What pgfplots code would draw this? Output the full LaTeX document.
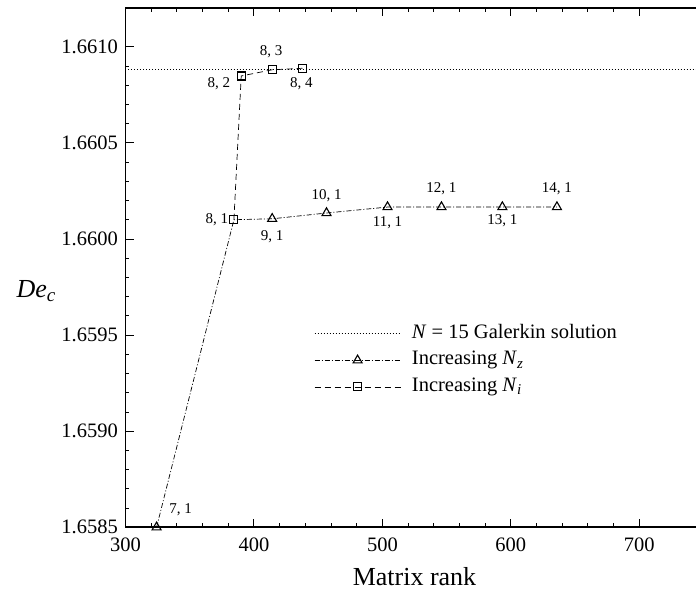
\documentclass[border=0pt]{standalone}
\usepackage{fontspec}
\setmainfont{Liberation Serif}
\usepackage{pgfplots}
\pgfplotsset{compat=1.18}
\newcommand{\sub}[1]{\raisebox{-0.35ex}{\fontsize{15}{17}\selectfont\textit{#1}}}
\newcommand{\subbig}[1]{\raisebox{-0.35ex}{\fontsize{19}{21}\selectfont\textit{#1}}}

\begin{document}
\begin{tikzpicture}
\begin{axis}[
  scale only axis,
  width=578pt, height=519pt,
  xmin=300, xmax=750, ymin=1.6585, ymax=1.6612,
  xtick={300,400,500,600,700},
  ytick={1.6585,1.6590,1.6595,1.6600,1.6605,1.6610},
  minor x tick num=4, minor y tick num=4,
  tick align=inside,
  major tick length=8pt, minor tick length=4pt,
  every tick/.style={black, line width=0.9pt},
  axis line style={line width=1.6pt},
  scaled y ticks=false,
  /pgf/number format/assume math mode=true,
  tick label style={font=\fontsize{20.5}{24}\selectfont, inner sep=0pt},
  yticklabel style={/pgf/number format/.cd, fixed, fixed zerofill, precision=4, /tikz/.cd, xshift=-7.5pt},
  xticklabel style={/pgf/number format/1000 sep={}, yshift=-10.5pt},
  xlabel={Matrix rank},
  every axis x label/.style={at={(axis description cs:0.5,0)}, anchor=base, yshift=-58pt, font=\fontsize{26}{30}\selectfont},
  ylabel={\textit{De}\subbig{c}},
  every axis y label/.style={at={(axis description cs:0,0.4437)}, anchor=base west, xshift=-112.5pt, font=\fontsize{26}{30}\selectfont},
  legend style={draw=none, fill=none, at={(axis description cs:0.3262,0.3917)}, anchor=north west,
    inner sep=0pt, row sep=7.6pt, column sep=0pt,
    nodes={inner sep=0pt, text height=14pt, text depth=5pt, font=\fontsize{20.5}{24}\selectfont}},
  legend cell align=left,
  legend image code/.code={
    \draw[#1, mark indices={2}] plot coordinates {(0pt,0pt) (43pt,0pt) (86pt,0pt)};
    \path (97pt,0pt);
  },
]
\addplot[black, line width=0.7pt, dash pattern=on 1pt off 2pt] coordinates {(300,1.66088) (750,1.66088)};
\addlegendentry{\textit{N} = 15 Galerkin solution}

\addplot[black, line width=0.7pt, dash pattern=on 5pt off 2pt on 1pt off 2pt,
  mark=triangle, mark size=5.2pt, mark indices={1,3,4,5,6,7,8},
  mark options={solid, line width=1.1pt, fill=white}]
  coordinates {(324.2,1.6585) (384.4,1.66010) (414.2,1.660105) (456.5,1.660135)
               (504,1.660166) (546,1.660166) (593.4,1.660166) (635.9,1.660166)};
\addlegendentry{Increasing \textit{N}\sub{z}}

\addplot[black, line width=0.7pt, dash pattern=on 6pt off 4pt,
  mark=square, mark size=4pt,
  mark options={solid, line width=1.1pt, fill=white}]
  coordinates {(384.4,1.66010) (390.1,1.660848) (414.2,1.66088) (437.8,1.660888)};
\addlegendentry{Increasing \textit{N}\sub{i}}

\draw[line width=1.6pt] (rel axis cs:0,0) rectangle (rel axis cs:1,1);

\begin{scope}[every node/.style={inner sep=0pt, font=\fontsize{15}{18}\selectfont}]
\node[xshift=24pt, yshift=18pt] at (axis cs:324.2,1.6585) {7, 1};
\node[anchor=east, xshift=-5.5pt] at (axis cs:384.4,1.66010) {8, 1};
\node[yshift=-18pt] at (axis cs:414.2,1.660105) {9, 1};
\node[yshift=17pt] at (axis cs:456.5,1.660135) {10, 1};
\node[yshift=-16pt] at (axis cs:504,1.660166) {11, 1};
\node[yshift=18pt] at (axis cs:546,1.660166) {12, 1};
\node[yshift=-14pt] at (axis cs:593.4,1.660166) {13, 1};
\node[yshift=18pt] at (axis cs:635.9,1.660166) {14, 1};
\node[anchor=east, xshift=-11pt, yshift=-8pt] at (axis cs:390.1,1.660848) {8, 2};
\node[xshift=-1pt, yshift=18pt] at (axis cs:414.2,1.66088) {8, 3};
\node[xshift=-1pt, yshift=-15pt] at (axis cs:437.8,1.660888) {8, 4};
\end{scope}
\end{axis}
\pgfresetboundingbox
\path ([shift={(-125.5pt,-63.7pt)}]current axis.south west) rectangle ([shift={(570.5pt,8.3pt)}]current axis.north west);
\end{tikzpicture}
\end{document}
